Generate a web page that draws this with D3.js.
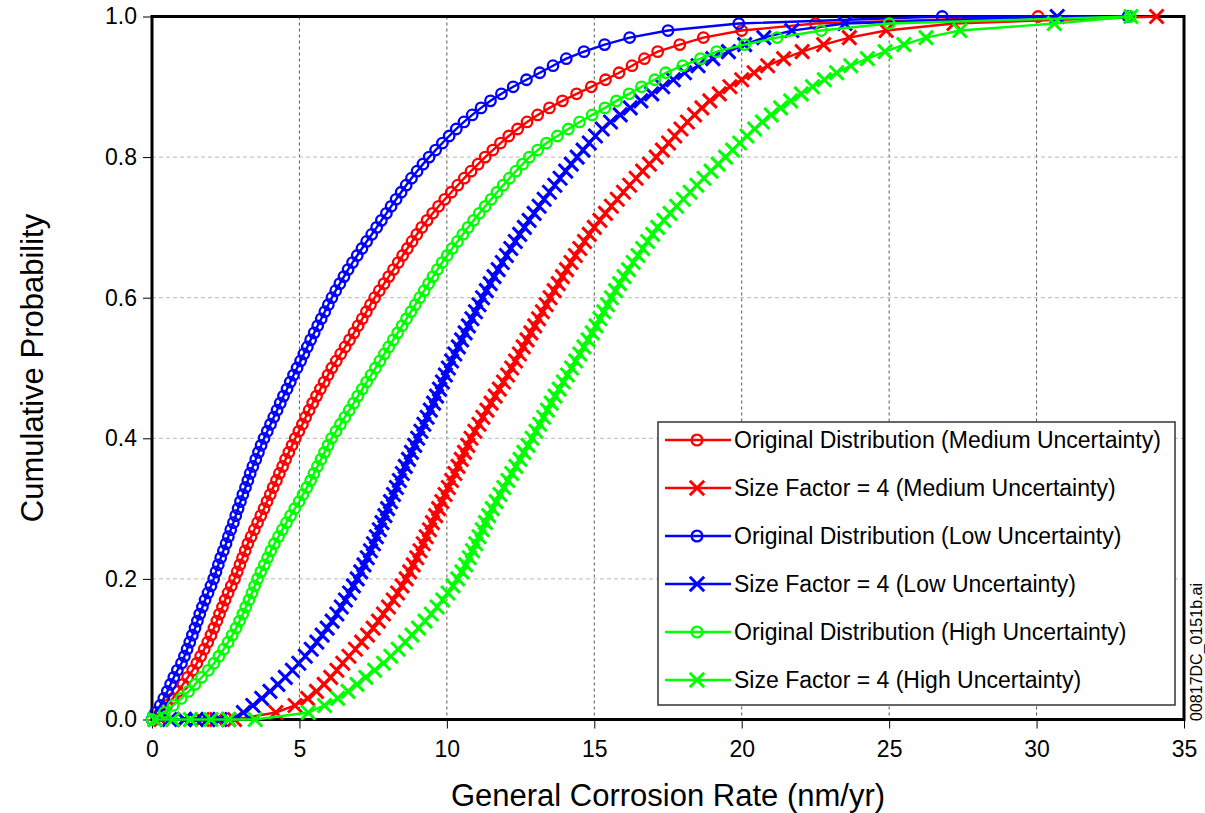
<!DOCTYPE html>
<html>
<head>
<meta charset="utf-8">
<script src="https://cdn.jsdelivr.net/npm/d3@7/dist/d3.min.js"></script>
<style>
    body { margin: 0; background: #fff; }
    text { font-family: Arial, "Liberation Sans", sans-serif; fill: #000; }
</style>
</head>
<body>
<div id="chart"></div>
<script>
// --> DATA
var probLevels = [0.00, 0.01, 0.02, 0.03, 0.04, 0.05, 0.06, 0.07, 0.08, 0.09,
    0.10, 0.11, 0.12, 0.13, 0.14, 0.15, 0.16, 0.17, 0.18, 0.19,
    0.20, 0.21, 0.22, 0.23, 0.24, 0.25, 0.26, 0.27, 0.28, 0.29,
    0.30, 0.31, 0.32, 0.33, 0.34, 0.35, 0.36, 0.37, 0.38, 0.39,
    0.40, 0.41, 0.42, 0.43, 0.44, 0.45, 0.46, 0.47, 0.48, 0.49,
    0.50, 0.51, 0.52, 0.53, 0.54, 0.55, 0.56, 0.57, 0.58, 0.59,
    0.60, 0.61, 0.62, 0.63, 0.64, 0.65, 0.66, 0.67, 0.68, 0.69,
    0.70, 0.71, 0.72, 0.73, 0.74, 0.75, 0.76, 0.77, 0.78, 0.79,
    0.80, 0.81, 0.82, 0.83, 0.84, 0.85, 0.86, 0.87, 0.88, 0.89,
    0.90, 0.91, 0.92, 0.93, 0.94, 0.95, 0.96, 0.97, 0.98, 0.99, 1.00];

// corrosion rate (nm/yr) at each probability level
var origMedium = [0.00, 0.28, 0.50, 0.70, 0.88, 1.05, 1.21, 1.38, 1.52, 1.65,
    1.77, 1.89, 2.00, 2.10, 2.20, 2.29, 2.39, 2.48, 2.58, 2.69,
    2.80, 2.89, 2.98, 3.07, 3.16, 3.25, 3.36, 3.47, 3.58, 3.69,
    3.80, 3.90, 4.01, 4.11, 4.22, 4.32, 4.43, 4.53, 4.64, 4.75,
    4.86, 4.98, 5.10, 5.21, 5.33, 5.45, 5.58, 5.71, 5.84, 5.97,
    6.10, 6.25, 6.40, 6.55, 6.70, 6.85, 6.99, 7.13, 7.27, 7.41,
    7.55, 7.71, 7.87, 8.03, 8.19, 8.35, 8.50, 8.66, 8.82, 8.98,
    9.15, 9.33, 9.52, 9.72, 9.93, 10.15, 10.37, 10.59, 10.82, 11.06,
    11.30, 11.56, 11.82, 12.10, 12.40, 12.72, 13.08, 13.48, 13.92, 14.40,
    14.90, 15.38, 15.84, 16.28, 16.70, 17.15, 17.90, 18.70, 20.00, 22.50, 30.05];

var sizeMedium = [2.80, 4.20, 4.85, 5.28, 5.58, 5.84, 6.06, 6.27, 6.47, 6.68,
    6.90, 7.11, 7.31, 7.50, 7.68, 7.85, 8.02, 8.18, 8.33, 8.48,
    8.62, 8.74, 8.86, 8.98, 9.09, 9.20, 9.30, 9.41, 9.51, 9.62,
    9.72, 9.83, 9.94, 10.05, 10.16, 10.27, 10.38, 10.49, 10.60, 10.71,
    10.82, 10.95, 11.09, 11.22, 11.36, 11.50, 11.64, 11.78, 11.92, 12.06,
    12.20, 12.33, 12.46, 12.59, 12.72, 12.85, 12.98, 13.11, 13.24, 13.37,
    13.50, 13.64, 13.78, 13.92, 14.06, 14.21, 14.36, 14.51, 14.67, 14.83,
    15.00, 15.19, 15.38, 15.58, 15.78, 15.99, 16.20, 16.42, 16.64, 16.87,
    17.10, 17.31, 17.52, 17.73, 17.94, 18.16, 18.40, 18.65, 18.92, 19.24,
    19.60, 20.00, 20.42, 20.88, 21.42, 22.05, 22.78, 23.65, 24.90, 27.20, 34.07];

var origLow = [0.00, 0.12, 0.28, 0.40, 0.52, 0.63, 0.74, 0.86, 1.00, 1.10,
    1.19, 1.28, 1.37, 1.46, 1.54, 1.62, 1.71, 1.80, 1.90, 2.00,
    2.09, 2.17, 2.25, 2.33, 2.42, 2.51, 2.59, 2.67, 2.76, 2.84,
    2.92, 3.00, 3.08, 3.17, 3.25, 3.33, 3.42, 3.52, 3.61, 3.70,
    3.80, 3.91, 4.02, 4.13, 4.24, 4.35, 4.46, 4.58, 4.69, 4.80,
    4.92, 5.04, 5.15, 5.27, 5.38, 5.50, 5.62, 5.74, 5.86, 5.98,
    6.10, 6.23, 6.37, 6.51, 6.65, 6.80, 6.96, 7.12, 7.28, 7.45,
    7.62, 7.78, 7.95, 8.11, 8.28, 8.45, 8.62, 8.80, 8.99, 9.19,
    9.40, 9.62, 9.85, 10.08, 10.32, 10.58, 10.86, 11.16, 11.48, 11.85,
    12.25, 12.70, 13.15, 13.60, 14.05, 14.65, 15.35, 16.20, 17.50, 19.90, 26.80];

var sizeLow = [2.60, 3.10, 3.42, 3.72, 4.00, 4.27, 4.52, 4.76, 4.98, 5.20,
    5.40, 5.59, 5.77, 5.94, 6.11, 6.27, 6.42, 6.56, 6.70, 6.83,
    6.96, 7.08, 7.19, 7.30, 7.41, 7.51, 7.61, 7.71, 7.80, 7.90,
    7.99, 8.09, 8.19, 8.29, 8.39, 8.49, 8.59, 8.70, 8.80, 8.91,
    9.01, 9.12, 9.22, 9.33, 9.44, 9.55, 9.65, 9.75, 9.85, 9.95,
    10.05, 10.16, 10.27, 10.39, 10.50, 10.62, 10.73, 10.85, 10.97, 11.09,
    11.21, 11.34, 11.47, 11.60, 11.74, 11.88, 12.02, 12.17, 12.32, 12.47,
    12.63, 12.79, 12.96, 13.13, 13.30, 13.48, 13.66, 13.84, 14.03, 14.22,
    14.42, 14.62, 14.83, 15.04, 15.27, 15.55, 15.88, 16.22, 16.58, 16.95,
    17.32, 17.68, 18.06, 18.52, 19.02, 19.55, 20.10, 20.75, 21.70, 23.50, 30.70];

var origHigh = [0.00, 0.42, 0.72, 0.99, 1.24, 1.46, 1.68, 1.91, 2.10, 2.27,
    2.43, 2.58, 2.72, 2.85, 2.97, 3.08, 3.18, 3.29, 3.39, 3.48,
    3.58, 3.69, 3.81, 3.92, 4.03, 4.15, 4.29, 4.42, 4.56, 4.70,
    4.84, 4.99, 5.12, 5.25, 5.38, 5.49, 5.61, 5.73, 5.85, 5.97,
    6.09, 6.24, 6.39, 6.54, 6.69, 6.84, 6.98, 7.13, 7.28, 7.43,
    7.58, 7.73, 7.88, 8.03, 8.18, 8.33, 8.48, 8.63, 8.78, 8.93,
    9.08, 9.23, 9.38, 9.53, 9.68, 9.84, 10.01, 10.18, 10.36, 10.54,
    10.72, 10.91, 11.10, 11.30, 11.50, 11.70, 11.91, 12.12, 12.34, 12.57,
    12.80, 13.08, 13.38, 13.75, 14.12, 14.50, 14.93, 15.36, 15.75, 16.18,
    16.60, 17.05, 17.42, 18.00, 18.60, 19.15, 20.10, 21.20, 22.70, 25.00, 33.18];

var sizeHigh = [3.50, 5.30, 5.85, 6.30, 6.65, 6.95, 7.25, 7.55, 7.85, 8.10,
    8.35, 8.59, 8.82, 9.04, 9.26, 9.47, 9.67, 9.86, 10.04, 10.21,
    10.37, 10.51, 10.64, 10.76, 10.87, 10.98, 11.09, 11.20, 11.31, 11.42,
    11.54, 11.67, 11.80, 11.93, 12.07, 12.20, 12.34, 12.48, 12.61, 12.75,
    12.89, 13.02, 13.15, 13.28, 13.41, 13.54, 13.67, 13.81, 13.95, 14.09,
    14.23, 14.37, 14.51, 14.65, 14.79, 14.93, 15.06, 15.19, 15.32, 15.45,
    15.58, 15.72, 15.86, 16.01, 16.16, 16.32, 16.48, 16.64, 16.81, 16.98,
    17.15, 17.36, 17.57, 17.79, 18.02, 18.25, 18.48, 18.72, 18.96, 19.20,
    19.45, 19.69, 19.93, 20.18, 20.44, 20.70, 21.00, 21.32, 21.66, 22.02,
    22.40, 22.80, 23.22, 23.70, 24.26, 24.86, 25.50, 26.25, 27.40, 30.60, 33.20];

// extra points that sit on the zero line before each curve starts
var sizeMediumZeros = [0.3, 1.1, 1.7, 2.2];
var sizeLowZeros = [0.1, 0.6, 1.1, 1.5, 1.9, 2.3];
var sizeHighZeros = [0.1, 0.7, 1.3, 2.0, 2.6];
// last low-uncertainty sample also sits on the top line
var origLowTop = [33.1];

var xTicks = [0, 5, 10, 15, 20, 25, 30, 35];
var yTicks = [0.0, 0.2, 0.4, 0.6, 0.8, 1.0];

var legendLabels = ["Original Distribution (Medium Uncertainty)",
    "Size Factor = 4 (Medium Uncertainty)",
    "Original Distribution (Low Uncertainty)",
    "Size Factor = 4 (Low Uncertainty)",
    "Original Distribution (High Uncertainty)",
    "Size Factor = 4 (High Uncertainty)"];

var series = [
    { label: legendLabels[0], values: origMedium, zeros: [], tops: [], color: "#ff0000", marker: "circle" },
    { label: legendLabels[1], values: sizeMedium, zeros: sizeMediumZeros, tops: [], color: "#ff0000", marker: "x" },
    { label: legendLabels[2], values: origLow, zeros: [], tops: origLowTop, color: "#0000ff", marker: "circle" },
    { label: legendLabels[3], values: sizeLow, zeros: sizeLowZeros, tops: [], color: "#0000ff", marker: "x" },
    { label: legendLabels[4], values: origHigh, zeros: [], tops: [], color: "#00ff00", marker: "circle" },
    { label: legendLabels[5], values: sizeHigh, zeros: sizeHighZeros, tops: [], color: "#00ff00", marker: "x" }
];

// --> CREATE SVG DRAWING AREA
var width = 1205,
    height = 813;
var plot = { left: 152, right: 1184, top: 16.5, bottom: 719.5 };

var svg = d3.select("#chart").append("svg")
    .attr("width", width)
    .attr("height", height)
    .style("background", "#fff");

var x = d3.scaleLinear().domain([0, 35]).range([plot.left, plot.right]);
var y = d3.scaleLinear().domain([0, 1]).range([plot.bottom, plot.top]);

// gridlines
svg.append("g").selectAll("line")
    .data(xTicks.slice(1, -1))
    .enter().append("line")
    .attr("x1", function(d) { return x(d); })
    .attr("x2", function(d) { return x(d); })
    .attr("y1", plot.top)
    .attr("y2", plot.bottom)
    .attr("stroke", "#555")
    .attr("stroke-width", 1)
    .attr("stroke-dasharray", "3,3");

svg.append("g").selectAll("line")
    .data(yTicks.slice(1, -1))
    .enter().append("line")
    .attr("x1", plot.left)
    .attr("x2", plot.right)
    .attr("y1", function(d) { return y(d); })
    .attr("y2", function(d) { return y(d); })
    .attr("stroke", "#bbb")
    .attr("stroke-width", 1)
    .attr("stroke-dasharray", "4,3");

// axes
var xAxis = d3.axisBottom(x).tickValues(xTicks).tickSize(9).tickPadding(12)
    .tickFormat(d3.format("d"));
var yAxis = d3.axisLeft(y).tickValues(yTicks).tickSize(9).tickPadding(6)
    .tickFormat(d3.format(".1f"));

var gx = svg.append("g")
    .attr("transform", "translate(0," + plot.bottom + ")")
    .call(xAxis);
var gy = svg.append("g")
    .attr("transform", "translate(" + plot.left + ",0)")
    .call(yAxis);

[gx, gy].forEach(function(g) {
    g.select(".domain").remove();
    g.selectAll(".tick line").attr("stroke", "#000").attr("stroke-width", 1);
    g.selectAll(".tick text").style("font-size", "23px").attr("fill", "#000");
});

// frame
svg.append("rect")
    .attr("x", plot.left)
    .attr("y", plot.top)
    .attr("width", plot.right - plot.left)
    .attr("height", plot.bottom - plot.top)
    .attr("fill", "none")
    .attr("stroke", "#000")
    .attr("stroke-width", 3);

// axis titles
svg.append("text")
    .attr("x", (plot.left + plot.right) / 2)
    .attr("y", 806)
    .attr("text-anchor", "middle")
    .style("font-size", "31px")
    .text("General Corrosion Rate (nm/yr)");

svg.append("text")
    .attr("transform", "translate(43," + ((plot.top + plot.bottom) / 2) + ") rotate(-90)")
    .attr("text-anchor", "middle")
    .style("font-size", "31px")
    .text("Cumulative Probability");

svg.append("text")
    .attr("transform", "translate(1202,652) rotate(-90)")
    .attr("text-anchor", "middle")
    .style("font-size", "16px")
    .text("00817DC_0151b.ai");

// --> CURVES
var line = d3.line()
    .x(function(d) { return x(d[0]); })
    .y(function(d) { return y(d[1]); });

function drawMarker(sel, type, color, size) {
    if (type == "circle") {
        sel.append("circle")
            .attr("r", size * 0.75)
            .attr("fill", "none")
            .attr("stroke", color)
            .attr("stroke-width", 2.3);
    } else {
        sel.append("path")
            .attr("d", "M" + (-size) + "," + (-size) + "L" + size + "," + size +
                "M" + (-size) + "," + size + "L" + size + "," + (-size))
            .attr("fill", "none")
            .attr("stroke", color)
            .attr("stroke-width", 3);
    }
}

series.forEach(function(s) {
    var pts = s.zeros.map(function(v) { return [v, 0]; })
        .concat(s.values.map(function(v, i) { return [v, probLevels[i]]; }))
        .concat(s.tops.map(function(v) { return [v, 1]; }));

    var g = svg.append("g");
    g.append("path")
        .datum(pts)
        .attr("d", line)
        .attr("fill", "none")
        .attr("stroke", s.color)
        .attr("stroke-width", 2.4);

    var m = g.selectAll(".pt")
        .data(pts)
        .enter().append("g")
        .attr("class", "pt")
        .attr("transform", function(d) { return "translate(" + x(d[0]) + "," + y(d[1]) + ")"; });
    drawMarker(m, s.marker, s.color, 7);
});

// --> LEGEND
var legendBox = svg.append("g").attr("transform", "translate(658,422)");
legendBox.append("rect")
    .attr("width", 517)
    .attr("height", 283)
    .attr("fill", "#fff")
    .attr("stroke", "#333")
    .attr("stroke-width", 1.5);

var legend = legendBox.selectAll(".legend")
    .data(series)
    .enter().append("g")
    .attr("class", "legend")
    .attr("transform", function(d, i) { return "translate(0," + (18 + 48 * i) + ")"; });

legend.append("line")
    .attr("x1", 7).attr("x2", 73)
    .attr("stroke", function(d) { return d.color; })
    .attr("stroke-width", 2.6);
legend.each(function(d) {
    var mk = d3.select(this).append("g").attr("transform", "translate(39,0)");
    drawMarker(mk, d.marker, d.color, 7.2);
});
legend.append("text")
    .attr("x", 76)
    .attr("dy", "0.36em")
    .style("font-size", "23px")
    .text(function(d) { return d.label; });
</script>
</body>
</html>
